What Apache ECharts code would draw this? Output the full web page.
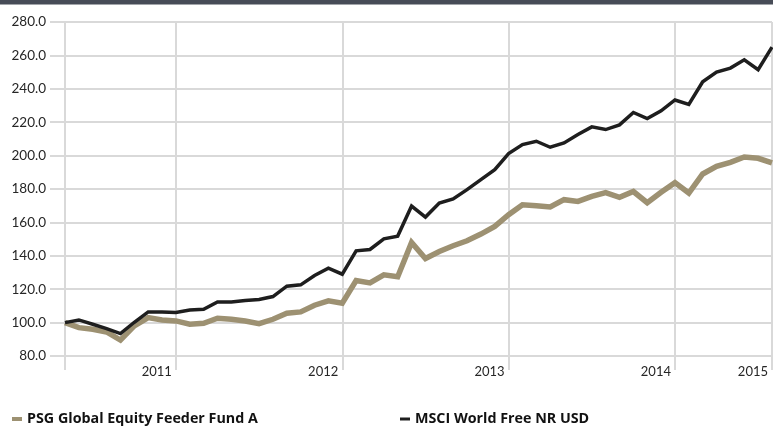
<!DOCTYPE html>
<html>
<head>
<meta charset="utf-8">
<script src="https://cdn.jsdelivr.net/npm/echarts@6/dist/echarts.min.js"></script>
<style>
html, body { margin: 0; padding: 0; background: #fff; }
#main { width: 773px; height: 438px; }
</style>
</head>
<body>
<div id="main"></div>
<script>
// monthly index values, rebased to 100
var fundName = 'PSG Global Equity Feeder Fund A';
var indexName = 'MSCI World Free NR USD';

var fundValues = [
    100, 97, 96, 94.4, 89.5, 98, 103, 101.6, 101, 99,
    99.6, 102.6, 102, 101, 99.4, 102, 105.6, 106.4, 110.4, 113,
    111.6, 125.2, 123.8, 128.6, 127.5, 148, 138.4, 142.6, 146, 149,
    153, 157.6, 164.6, 170.6, 170, 169.2, 173.6, 172.6, 175.6, 177.8,
    175, 178.5, 171.8, 178, 183.8, 177.6, 189, 193.6, 196, 199.2,
    198.4, 195.6
];
var indexValues = [
    100, 101.6, 99, 96.4, 93.4, 100.2, 106.4, 106.4, 106, 107.6,
    108, 112.4, 112.4, 113.2, 113.8, 115.6, 121.8, 122.6, 128.2, 132.6,
    129, 143, 143.8, 150.2, 151.8, 169.8, 163.2, 171.6, 174, 179.6,
    185.6, 191.6, 201.2, 206.6, 208.6, 205, 207.6, 212.6, 217.2, 215.6,
    218.4, 225.8, 222.2, 226.8, 233.3, 230.6, 244.2, 250, 252.4, 257.4,
    251.4, 265
];

// category positions that carry a gridline / year label
var yearTickIndex = [0, 8, 20, 32, 44, 51];
var yearTickLabels = ['', '2011', '2012', '2013', '2014', '2015'];

var categories = fundValues.map(function (v, i) { return String(i); });

function isYearTick(index) {
    return yearTickIndex.indexOf(index) >= 0;
}

var gridGrey = '#d9d9d9';
var legendText = { fontFamily: 'Open Sans', fontWeight: 'bold', fontSize: 14.3, color: '#111' };

var chart = echarts.init(document.getElementById('main'));
chart.setOption({
    animation: false,
    graphic: [{
        type: 'rect',
        left: 0, top: 0,
        shape: { width: 773, height: 4.5 },
        style: { fill: '#474c57' }
    }],
    legend: [{
        left: 12, top: 412,
        padding: 0,
        icon: 'rect',
        itemWidth: 10, itemHeight: 4,
        data: [fundName],
        textStyle: legendText
    }, {
        left: 400, top: 412,
        padding: 0,
        icon: 'rect',
        itemWidth: 10, itemHeight: 3,
        data: [indexName],
        textStyle: legendText
    }],
    grid: { left: 65, right: 1, top: 22, bottom: 82 },
    xAxis: {
        type: 'category',
        boundaryGap: false,
        data: categories,
        axisLine: { show: false },
        axisTick: {
            show: true,
            length: 14,
            interval: isYearTick,
            lineStyle: { color: gridGrey, width: 2 }
        },
        axisLabel: {
            interval: isYearTick,
            align: 'right',
            margin: 9,
            padding: [0, 4, 0, 0],
            fontFamily: 'Lato',
            fontSize: 13,
            color: '#262626',
            formatter: function (value, index) {
                var pos = yearTickIndex.indexOf(index);
                return pos >= 0 ? yearTickLabels[pos] : '';
            }
        },
        splitLine: {
            show: true,
            interval: isYearTick,
            lineStyle: { color: gridGrey, width: 2 }
        }
    },
    yAxis: {
        type: 'value',
        min: 80,
        max: 280,
        interval: 20,
        axisLine: { show: false },
        axisTick: {
            show: true,
            length: 15,
            lineStyle: { color: gridGrey, width: 2 }
        },
        axisLabel: {
            margin: 19,
            fontFamily: 'Lato',
            fontSize: 13.5,
            color: '#262626',
            formatter: function (v) { return v.toFixed(1); }
        },
        splitLine: { lineStyle: { color: gridGrey, width: 2 } }
    },
    series: [{
        name: fundName,
        type: 'line',
        data: fundValues,
        symbol: 'none',
        itemStyle: { color: '#9d9172' },
        lineStyle: { color: '#9d9172', width: 5.5, join: 'miter' }
    }, {
        name: indexName,
        type: 'line',
        data: indexValues,
        symbol: 'none',
        itemStyle: { color: '#1e1e1e' },
        lineStyle: { color: '#1e1e1e', width: 3.5, join: 'miter' }
    }]
});
</script>
</body>
</html>
